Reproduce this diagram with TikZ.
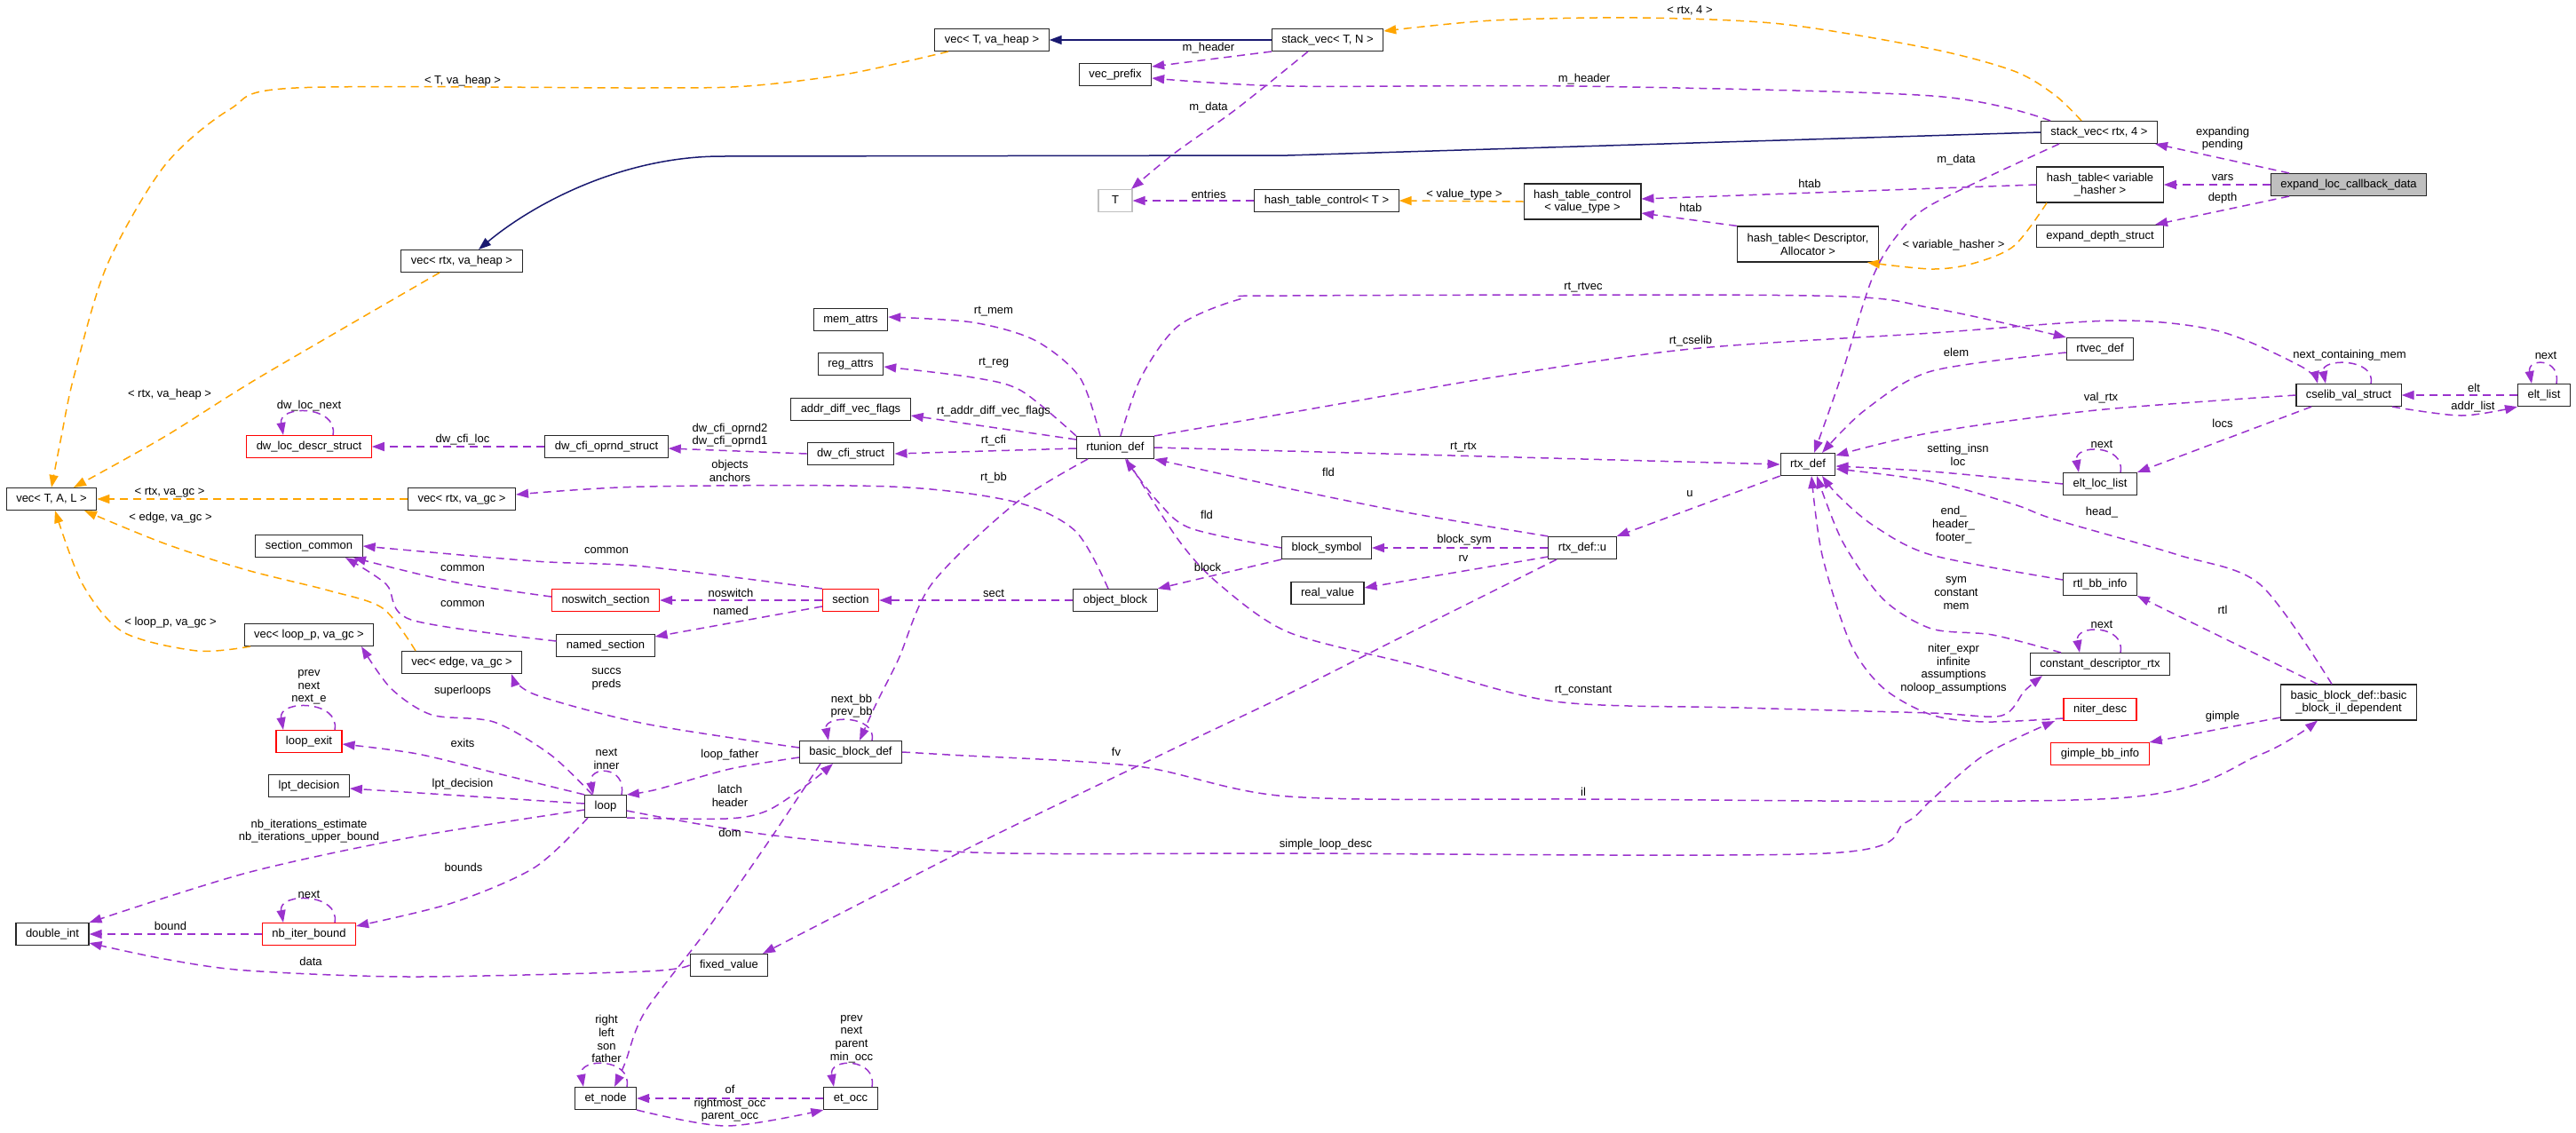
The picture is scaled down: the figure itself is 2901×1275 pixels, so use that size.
\documentclass[tikz,border=0pt]{standalone}
\usepackage{fontspec}
\setmainfont{Liberation Sans}
\usetikzlibrary{arrows.meta}
\definecolor{usepurple}{HTML}{9A32CD}
\definecolor{tplorange}{HTML}{FFA500}
\definecolor{inhblue}{HTML}{191970}
\definecolor{boxgray}{HTML}{BFBFBF}

\begin{document}
\begin{tikzpicture}[x=1pt, y=-1pt,
    cls/.style={draw=black!85, line width=1.1pt, fill=white, inner xsep=11pt, inner ysep=0pt, minimum height=25pt, font=\fontsize{13}{14.7}\selectfont, text height=9.5pt, text depth=2.8pt},
    clsred/.style={cls, draw=red},
    cls2/.style={draw=black!85, line width=1.1pt, fill=white, inner xsep=11pt, inner ysep=2pt, minimum height=40pt, align=center, font=\fontsize{13}{14.7}\selectfont},
    lbl/.style={inner sep=0pt, align=center, font=\fontsize{13}{14.7}\selectfont},
    usage/.style={draw=usepurple, line width=1.5pt, dash pattern=on 9pt off 6pt, -{Triangle[length=14pt,width=10pt]}},
    tmpl/.style={usage, draw=tplorange},
    inherit/.style={draw=inhblue, line width=1.5pt, -{Triangle[length=14pt,width=10pt]}}]
    \useasboundingbox (0,0) rectangle (2901,1275);

    % classes, top part
    \node[cls] (vecTvaheap) at (1117,45) {vec< T, va\_heap >};
    \node[cls] (stackvecTN) at (1495,45) {stack\_vec< T, N >};
    \node[cls] (vecprefix) at (1256,84) {vec\_prefix};
    \node[cls] (vecrtxvaheap) at (520,294) {vec< rtx, va\_heap >};
    \node[cls, draw=boxgray, minimum width=38pt] (Tnode) at (1256,226) {T};
    \node[cls] (htcT) at (1494,226) {hash\_table\_control< T >};
    \node[cls2] (htcvt) at (1782,227) {hash\_table\_control\\< value\_type >};
    \node[cls2] (htDA) at (2036,275) {hash\_table< Descriptor,\\Allocator >};
    \node[cls] (stackvecrtx) at (2364,149) {stack\_vec< rtx, 4 >};
    \node[cls2] (htvh) at (2365,208) {hash\_table< variable\\\_hasher >};
    \node[cls] (expdepth) at (2365,266) {expand\_depth\_struct};
    \node[cls, fill=boxgray] (expandloc) at (2645,208) {expand\_loc\_callback\_data};

    % classes, middle part
    \node[cls] (memattrs) at (958,360) {mem\_attrs};
    \node[cls] (regattrs) at (958,410) {reg\_attrs};
    \node[cls] (addrdiff) at (958,461) {addr\_diff\_vec\_flags};
    \node[cls] (dwcfistruct) at (958,511) {dw\_cfi\_struct};
    \node[cls] (rtunion) at (1256,504) {rtunion\_def};
    \node[cls] (rtvecdef) at (2365,393) {rtvec\_def};
    \node[cls] (cselib) at (2645,445) {cselib\_val\_struct};
    \node[cls] (eltlist) at (2865,445) {elt\_list};
    \node[cls] (rtxdef) at (2036,523) {rtx\_def};
    \node[cls] (eltloclist) at (2365,545) {elt\_loc\_list};
    \node[cls] (vecTAL) at (58,562) {vec< T, A, L >};
    \node[clsred] (dwlocdescr) at (348,503) {dw\_loc\_descr\_struct};
    \node[cls] (dwcfioprnd) at (683,503) {dw\_cfi\_oprnd\_struct};
    \node[cls] (vecrtxvagc) at (520,562) {vec< rtx, va\_gc >};
    \node[cls] (sectioncommon) at (348,615) {section\_common};
    \node[clsred] (noswitch) at (682,676) {noswitch\_section};
    \node[clsred] (sectionnode) at (958,676) {section};
    \node[cls] (objectblock) at (1256,676) {object\_block};
    \node[cls] (blocksymbol) at (1494,617) {block\_symbol};
    \node[cls] (rtxdefu) at (1782,617) {rtx\_def::u};
    \node[cls] (realvalue) at (1495,668) {real\_value};
    \node[cls] (namedsection) at (682,727) {named\_section};
    \node[cls] (rtlbbinfo) at (2365,658) {rtl\_bb\_info};
    \node[cls] (vecloopp) at (348,715) {vec< loop\_p, va\_gc >};
    \node[cls] (vecedge) at (520,746) {vec< edge, va\_gc >};
    \node[cls] (constdesc) at (2365,748) {constant\_descriptor\_rtx};
    \node[cls2] (bbildep) at (2645,791) {basic\_block\_def::basic\\\_block\_il\_dependent};
    \node[clsred] (niterdesc) at (2365,799) {niter\_desc};

    % classes, bottom part
    \node[clsred] (loopexit) at (348,835) {loop\_exit};
    \node[cls] (bbdef) at (958,847) {basic\_block\_def};
    \node[clsred] (gimplebb) at (2365,849) {gimple\_bb\_info};
    \node[cls] (lptdecision) at (348,885) {lpt\_decision};
    \node[cls] (loopnode) at (682,908) {loop};
    \node[cls] (doubleint) at (59,1052) {double\_int};
    \node[clsred] (nbiterbound) at (348,1052) {nb\_iter\_bound};
    \node[cls] (fixedvalue) at (821,1087) {fixed\_value};
    \node[cls] (etnode) at (682,1237) {et\_node};
    \node[cls] (etocc) at (958,1237) {et\_occ};

    % inheritance
    \draw[inherit] (stackvecTN.west) -- (vecTvaheap.east);
    \draw[inherit] (stackvecrtx.west) -- (1450,175) -- (813,176) .. controls (700,176) and (600,230) .. ([xshift=19]vecrtxvaheap.north);

    % template instances
    \draw[tmpl] plot[smooth, tension=0.5] coordinates {([xshift=-49]vecTvaheap.south) (956,83) (841,97) (725,99) (333,99) (259,123) (185,187) (120,300) (83,425) (69,492) (vecTAL.north)};
    \node[lbl] (lTvaheap) at (521,91) {< T, va\_heap >};
    \draw[tmpl] plot[smooth, tension=0.5] coordinates {([xshift=-25]vecrtxvaheap.south) (292,425) (185,492) ([xshift=25]vecTAL.north)};
    \node[lbl] (lrtxvaheap) at (191,444) {< rtx, va\_heap >};
    \draw[tmpl] (vecrtxvagc.west) -- (vecTAL.east);
    \node[lbl] (lrtxvagc) at (191,555) {< rtx, va\_gc >};
    \draw[tmpl] plot[smooth, tension=0.5] coordinates {([xshift=-52]vecedge.north) (431,685) (370,665) (278,642) (185,612) ([xshift=37]vecTAL.south)};
    \node[lbl] (ledgevagc) at (192,583) {< edge, va\_gc >};
    \draw[tmpl] plot[smooth, tension=0.5] coordinates {([xshift=-66]vecloopp.south) (222,733) (139,712) (93,658) ([xshift=4]vecTAL.south)};
    \node[lbl] (llooppvagc) at (192,701) {< loop\_p, va\_gc >};
    \draw[tmpl] plot[smooth, tension=0.5] coordinates {([xshift=-20]stackvecrtx.north) (2314,107) (2268,80) (2175,55) (2006,27) (1844,20) (1681,23) ([yshift=10]stackvecTN.east)};
    \node[lbl] (lrtx4) at (1903,12) {< rtx, 4 >};
    \draw[tmpl] (htcvt.west) -- (htcT.east);
    \node[lbl] (lvaluetype) at (1649,219) {< value\_type >};
    \draw[tmpl] plot[smooth, tension=0.5] coordinates {([xshift=-60]htvh.south) (2268,277) (2221,297) (2175,303) ([xshift=67]htDA.south)};
    \node[lbl] (lvarhasher) at (2200,276) {< variable\_hasher >};

    % vec and hash tables
    \draw[usage] (stackvecTN.south west) -- ([yshift=9]vecprefix.east);
    \node[lbl] (lmheader1) at (1361,54) {m\_header};
    \draw[usage] plot[smooth, tension=0.5] coordinates {([xshift=-55]stackvecrtx.north) (2176,108) (1774,97) (1450,97) ([yshift=-4]vecprefix.east)};
    \node[lbl] (lmheader2) at (1784,89) {m\_header};
    \draw[usage] plot[smooth, tension=0.5] coordinates {([xshift=-22]stackvecTN.south) (1392,123) (1322,173) ([xshift=18]Tnode.north)};
    \node[lbl] (lmdata1) at (1361,121) {m\_data};
    \draw[usage] (htcT.west) -- (Tnode.east);
    \node[lbl] (lentries) at (1361,219) {entries};
    \draw[usage] (htvh.west) -- ([yshift=3]htcvt.east);
    \node[lbl] (lhtab1) at (2038,207) {htab};
    \draw[usage] (htDA.north west) -- ([yshift=-13]htcvt.east);
    \node[lbl] (lhtab2) at (1904,234) {htab};
    \draw[usage] ([xshift=-67]expandloc.north) -- ([xshift=63]stackvecrtx.south);
    \node[lbl] (lexpanding) at (2503,156) {expanding\\pending};
    \draw[usage] (expandloc.west) -- (htvh.east);
    \node[lbl] (lvars) at (2503,200) {vars};
    \draw[usage] ([xshift=-67]expandloc.south) -- ([xshift=62]expdepth.north);
    \node[lbl] (ldepth) at (2503,223) {depth};
    \draw[usage] plot[smooth, tension=0.5] coordinates {([xshift=-45]stackvecrtx.south) (2176,230) (2135,267) (2107,317) (2073,425) ([xshift=7]rtxdef.north)};
    \node[lbl] (lmdata2) at (2203,180) {m\_data};
    \draw[usage] plot[smooth, tension=0.5] coordinates {([yshift=-4]rtvecdef.west) (2175,418) (2100,462) ([xshift=16]rtxdef.north)};
    \node[lbl] (lelem) at (2203,397) {elem};

    % rtunion_def
    \draw[usage] plot[smooth, tension=0.5] coordinates {([xshift=6]rtunion.north) (1285,425) (1327,367) (1396,337) (1451,333) (2043,333) (2176,347) (rtvecdef.north west)};
    \node[lbl] (lrtrtvec) at (1783,324) {rt\_rtvec};
    \draw[usage] plot[smooth, tension=0.5] coordinates {(rtunion.north east) (1451,465) (1681,425) (1904,393) (2176,375) (2383,361) (2499,373) (2592,413) ([xshift=-35]cselib.north)};
    \node[lbl] (lrtcselib) at (1904,384) {rt\_cselib};
    \draw[usage] plot[smooth, tension=0.5] coordinates {([xshift=-17]rtunion.north) (1216,425) (1165,383) (1095,363) ([yshift=3]memattrs.east)};
    \node[lbl] (lrtmem) at (1119,351) {rt\_mem};
    \draw[usage] plot[smooth, tension=0.5] coordinates {(rtunion.north west) (1150,440) (1095,425) ([yshift=-3]regattrs.east)};
    \node[lbl] (lrtreg) at (1119,409) {rt\_reg};
    \draw[usage] ([yshift=9]rtunion.west) -- ([yshift=-7]addrdiff.east);
    \node[lbl] (lrtaddr) at (1119,463) {rt\_addr\_diff\_vec\_flags};
    \draw[usage] ([yshift=-1]rtunion.west) -- (dwcfistruct.east);
    \node[lbl] (lrtcfi) at (1119,496) {rt\_cfi};
    \draw[usage] plot[smooth, tension=0.5] coordinates {([xshift=-31]rtunion.south) (1142,568) (1049,658) (1012,742) (987,792) ([xshift=10]bbdef.north)};
    \node[lbl] (lrtbb) at (1119,538) {rt\_bb};
    \draw[usage] plot[smooth, tension=0.5] coordinates {(rtunion.east) (1450,508) (rtxdef.west)};
    \node[lbl] (lrtrtx) at (1648,504) {rt\_rtx};
    \draw[usage] plot[smooth, tension=0.5] coordinates {([xshift=13]rtunion.south) (1327,608) (1373,658) (1451,712) (1589,748) (1751,790) (1959,797) (2175,803) (2254,806) (2280,778) ([xshift=-65]constdesc.south)};
    \node[lbl] (lrtconst) at (1783,778) {rt\_constant};

    % dwarf
    \draw[usage] (dwcfistruct.west) -- ([yshift=-2]dwcfioprnd.east);
    \node[lbl] (ldwoprnd) at (822,490) {dw\_cfi\_oprnd2\\dw\_cfi\_oprnd1};
    \draw[usage] (dwcfioprnd.west) -- (dwlocdescr.east);
    \node[lbl] (ldwcfiloc) at (521,495) {dw\_cfi\_loc};
    \draw[usage] ([xshift=27]dwlocdescr.north) .. controls +(6,-34) and +(-6,-34) .. ([xshift=-29]dwlocdescr.north);
    \node[lbl] (ldwlocnext) at (348,457) {dw\_loc\_next};

    % sections and blocks
    \draw[usage] plot[smooth, tension=0.5] coordinates {([xshift=-8]objectblock.north) (1211,598) (1142,565) (1003,548) (725,548) ([yshift=5]vecrtxvagc.east)};
    \node[lbl] (lobjects) at (822,530) {objects\\anchors};
    \draw[usage] (objectblock.west) -- (sectionnode.east);
    \node[lbl] (lsect) at (1119,668) {sect};
    \draw[usage] (sectionnode.west) -- (noswitch.east);
    \node[lbl] (lnoswitch) at (823,668) {noswitch};
    \draw[usage] ([yshift=-7]sectionnode.west) -- ([yshift=10]namedsection.east);
    \node[lbl] (lnamed) at (823,688) {named};
    \draw[usage] plot[smooth, tension=0.5] coordinates {(sectionnode.north west) (725,638) (602,632) (sectioncommon.east)};
    \node[lbl] (lcommon1) at (683,620) {common};
    \draw[usage] plot[smooth, tension=0.5] coordinates {([yshift=4]noswitch.west) (509,655) ([xshift=50]sectioncommon.south)};
    \node[lbl] (lcommon2) at (521,640) {common};
    \draw[usage] plot[smooth, tension=0.5] coordinates {([yshift=5]namedsection.west) (463,698) (435,658) ([xshift=41]sectioncommon.south)};
    \node[lbl] (lcommon3) at (521,680) {common};
    \draw[usage] plot[smooth, tension=0.5] coordinates {(blocksymbol.west) (1341,595) (1304,565) ([xshift=11]rtunion.south)};
    \node[lbl] (lfld1) at (1359,580) {fld};
    \draw[usage] (blocksymbol.south west) -- (objectblock.north east);
    \node[lbl] (lblock) at (1360,639) {block};

    % rtx_def::u
    \draw[usage] plot[smooth, tension=0.5] coordinates {(rtxdefu.north west) (1589,578) (1450,550) (rtunion.south east)};
    \node[lbl] (lfld2) at (1496,532) {fld};
    \draw[usage] (rtxdefu.west) -- (blocksymbol.east);
    \node[lbl] (lblocksym) at (1649,608) {block\_sym};
    \draw[usage] ([yshift=-10]rtxdefu.west) -- ([yshift=6]realvalue.east);
    \node[lbl] (lrv) at (1648,629) {rv};
    \draw[usage] (rtxdef.south west) -- (rtxdefu.north east);
    \node[lbl] (lu) at (1903,556) {u};
    \draw[usage] plot[smooth, tension=0.5] coordinates {([xshift=-29]rtxdefu.south) (1589,712) (1450,782) (1318,845) (1095,953) ([xshift=38]fixedvalue.north)};
    \node[lbl] (lfv) at (1257,847) {fv};

    % cselib
    \draw[usage] plot[smooth, tension=0.5] coordinates {(cselib.west) (2360,462) (2176,487) ([yshift=10]rtxdef.east)};
    \node[lbl] (lvalrtx) at (2366,448) {val\_rtx};
    \draw[usage] ([xshift=25]cselib.north) .. controls +(6,-29) and +(-6,-29) .. ([xshift=-26]cselib.north);
    \node[lbl] (lnextcont) at (2646,400) {next\_containing\_mem};
    \draw[usage] (eltlist.west) -- (cselib.east);
    \node[lbl] (lelt) at (2786,437) {elt};
    \draw[usage] plot[smooth, tension=0.5] coordinates {([xshift=49]cselib.south) (2772,468) (eltlist.south west)};
    \node[lbl] (laddrlist) at (2785,458) {addr\_list};
    \draw[usage] ([xshift=14]eltlist.north) .. controls +(5,-29) and +(-5,-29) .. ([xshift=-14]eltlist.north);
    \node[lbl] (lnextelt) at (2867,400) {next};
    \draw[usage] ([xshift=-42]cselib.south) -- (eltloclist.north east);
    \node[lbl] (llocs) at (2503,477) {locs};
    \draw[usage] ([xshift=23]eltloclist.north) .. controls +(6,-32) and +(-6,-32) .. ([xshift=-24]eltloclist.north);
    \node[lbl] (lnextloc) at (2367,500) {next};
    \draw[usage] plot[smooth, tension=0.5] coordinates {(eltloclist.west) (2175,531) ([yshift=-2]rtxdef.east)};
    \node[lbl] (lsetting) at (2205,512) {setting\_insn\\loc};

    % basic block info
    \draw[usage] plot[smooth, tension=0.5] coordinates {([xshift=-19]bbildep.north) (2545,658) (2453,625) (2314,585) (2268,568) (2175,542) ([yshift=-5]rtxdef.east)};
    \node[lbl] (lhead) at (2367,577) {head\_};
    \draw[usage] plot[smooth, tension=0.5] coordinates {([yshift=5]rtlbbinfo.west) (2175,625) (2110,592) (2070,558) ([xshift=16]rtxdef.south)};
    \node[lbl] (lend) at (2200,591) {end\_\\header\_\\footer\_};
    \draw[usage] ([xshift=-35]bbildep.north) -- (rtlbbinfo.south east);
    \node[lbl] (lrtl) at (2503,687) {rtl};
    \draw[usage] plot[smooth, tension=0.5] coordinates {([xshift=-44]constdesc.north) (2244,715) (2175,708) (2121,675) (2075,610) ([xshift=10]rtxdef.south)};
    \node[lbl] (lsym) at (2203,668) {sym\\constant\\mem};
    \draw[usage] ([xshift=23]constdesc.north) .. controls +(6,-32) and +(-6,-32) .. ([xshift=-23]constdesc.north);
    \node[lbl] (lnextconst) at (2367,703) {next};
    \draw[usage] plot[smooth, tension=0.5] coordinates {([yshift=-10]niterdesc.west) (2235,813) (2175,805) (2121,775) (2084,725) (2052,625) ([xshift=4]rtxdef.south)};
    \node[lbl] (lniter) at (2200,753) {niter\_expr\\infinite\\assumptions\\noloop\_assumptions};
    \draw[usage] ([yshift=-17]bbildep.west) -- (gimplebb.north east);
    \node[lbl] (lgimple) at (2503,807) {gimple};

    % basic blocks and loops
    \draw[usage] plot[smooth, tension=0.5] coordinates {(bbdef.east) (1068,850) (1281,863) (1451,897) (1783,900) (2383,899) (2545,850) ([xshift=-35]bbildep.south)};
    \node[lbl] (lil) at (1783,892) {il};
    \draw[usage] ([xshift=24]bbdef.north) .. controls +(6,-29) and +(-6,-29) .. ([xshift=-25]bbdef.north);
    \node[lbl] (lnextbb) at (959,795) {next\_bb\\prev\_bb};
    \draw[usage] plot[smooth, tension=0.5] coordinates {([yshift=5]bbdef.west) (726,815) (602,782) ([xshift=56]vecedge.south)};
    \node[lbl] (lsuccs) at (683,765) {succs\\preds};
    \draw[usage] plot[smooth, tension=0.5] coordinates {([yshift=-6]bbdef.west) (822,866) (740,889) (loopnode.north east)};
    \node[lbl] (lloopfather) at (822,850) {loop\_father};
    \draw[usage] plot[smooth, tension=0.5] coordinates {(loopnode.south east) (818,922) (864,913) (910,883) ([xshift=-20]bbdef.south)};
    \node[lbl] (llatch) at (822,896) {latch\\header};
    \draw[usage] plot[smooth, tension=0.5] coordinates {([yshift=-5]loopnode.east) (864,940) (1095,960) (1451,961) (2057,961) (2145,927) (2176,900) (2235,850) ([xshift=-51]niterdesc.south)};
    \node[lbl] (lsimple) at (1493,951) {simple\_loop\_desc};
    \draw[usage] plot[smooth, tension=0.5] coordinates {([xshift=-34]bbdef.south) (864,950) (794,1050) (726,1140) (704,1197) ([xshift=10]etnode.north)};
    \node[lbl] (ldom) at (822,938) {dom};
    \draw[usage] plot[smooth, tension=0.5] coordinates {(loopnode.north west) (560,871) (470,849) ([yshift=-3]loopexit.east)};
    \node[lbl] (lexits) at (521,837) {exits};
    \draw[usage] ([xshift=29]loopexit.north) .. controls +(6,-34) and +(-6,-34) .. ([xshift=-29]loopexit.north);
    \node[lbl] (lloopexitself) at (348,774) {prev\\next\\next\_e};
    \draw[usage] plot[smooth, tension=0.5] coordinates {([xshift=-15]loopnode.north) (620,850) (556,813) (486,805) (440,775) ([xshift=59]vecloopp.south)};
    \node[lbl] (lsuperloops) at (521,778) {superloops};
    \draw[usage] ([xshift=18]loopnode.north) .. controls +(6,-33) and +(-6,-33) .. ([xshift=-14]loopnode.north);
    \node[lbl] (lnextinner) at (683,855) {next\\inner};
    \draw[usage] ([yshift=3]loopnode.west) -- ([yshift=-3]lptdecision.east);
    \node[lbl] (llpt) at (521,883) {lpt\_decision};
    \draw[usage] plot[smooth, tension=0.5] coordinates {([yshift=-4]loopnode.west) (463,943) (278,983) (doubleint.north east)};
    \node[lbl] (lnbiter) at (348,936) {nb\_iterations\_estimate\\nb\_iterations\_upper\_bound};
    \draw[usage] plot[smooth, tension=0.5] coordinates {([xshift=-20]loopnode.south) (602,977) (509,1017) ([yshift=9]nbiterbound.east)};
    \node[lbl] (lbounds) at (522,977) {bounds};
    \draw[usage] ([xshift=29]nbiterbound.north) .. controls +(6,-34) and +(-6,-34) .. ([xshift=-29]nbiterbound.north);
    \node[lbl] (lnextnb) at (348,1007) {next};
    \draw[usage] (nbiterbound.west) -- (doubleint.east);
    \node[lbl] (lbound) at (192,1043) {bound};
    \draw[usage] plot[smooth, tension=0.5] coordinates {(fixedvalue.west) (726,1094) (463,1100) (278,1093) (185,1080) ([yshift=-10]doubleint.east)};
    \node[lbl] (ldata) at (350,1083) {data};

    % et tree
    \draw[usage] ([xshift=24]etnode.north) .. controls +(6,-33) and +(-6,-33) .. ([xshift=-25]etnode.north);
    \node[lbl] (letnodeself) at (683,1170) {right\\left\\son\\father};
    \draw[usage] (etocc.west) -- (etnode.east);
    \node[lbl] (lof) at (822,1227) {of};
    \draw[usage] plot[smooth, tension=0.5] coordinates {(etnode.south east) (818,1268) (etocc.south west)};
    \node[lbl] (lrightmost) at (822,1250) {rightmost\_occ\\parent\_occ};
    \draw[usage] ([xshift=24]etocc.north) .. controls +(6,-33) and +(-6,-33) .. ([xshift=-19]etocc.north);
    \node[lbl] (letoccself) at (959,1170) {prev\\next\\parent\\min\_occ};
\end{tikzpicture}
\end{document}
